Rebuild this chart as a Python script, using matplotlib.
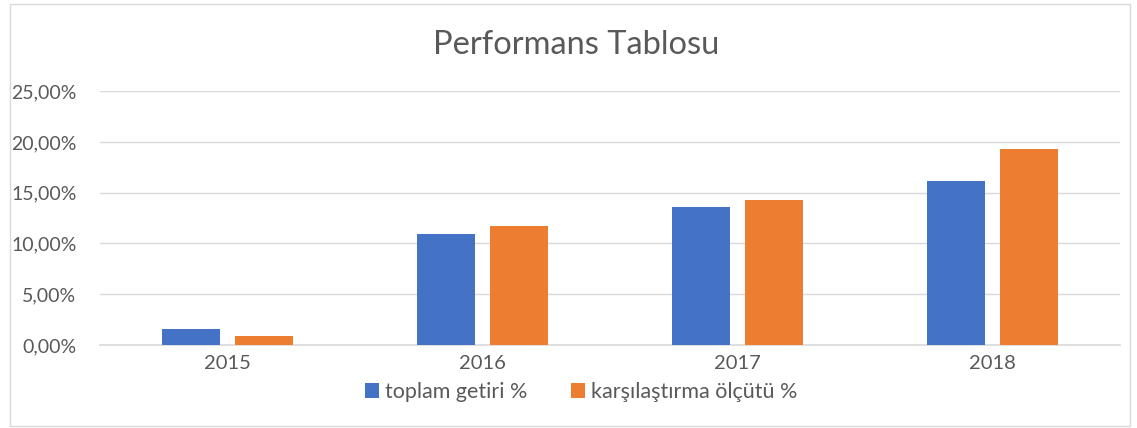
import matplotlib.pyplot as plt
import numpy as np
from matplotlib.patches import Rectangle
from matplotlib.ticker import FuncFormatter

plt.rcParams['font.family'] = ['Lato', 'DejaVu Sans']

# veri
years = ['2015', '2016', '2017', '2018']
toplam_getiri = [1.55, 10.93, 13.55, 16.20]
karsilastirma = [0.92, 11.71, 14.27, 19.26]

blue = '#4472C4'
orange = '#ED7D31'
grid_c = '#D9D9D9'
text_c = '#595959'

fig = plt.figure(figsize=(11.37, 4.28), dpi=100)
# chart frame
fig.patches.append(Rectangle((0.009, 0.005), 0.985, 0.985, transform=fig.transFigure,
                             fill=False, edgecolor='#D9D9D9', lw=1))
ax = fig.add_axes([0.088, 0.194, 0.897, 0.593])

x = np.arange(len(years))
w = 0.227
off = 0.143
ax.bar(x - off, [v / 100 for v in toplam_getiri], w, color=blue, label='toplam getiri %', zorder=3)
ax.bar(x + off, [v / 100 for v in karsilastirma], w, color=orange, label='karşılaştırma ölçütü %', zorder=3)

ax.set_xlim(-0.5, 3.5)
ax.set_ylim(0, 0.25)
ax.set_yticks(np.arange(0, 0.26, 0.05))
ax.yaxis.set_major_formatter(FuncFormatter(lambda v, p: f'{v*100:.2f}%'.replace('.', ',')))
ax.set_xticks(x)
ax.set_xticklabels(years)
ax.grid(axis='y', color=grid_c, lw=1, zorder=0)
for s in ['top', 'right', 'left']:
    ax.spines[s].set_visible(False)
ax.spines['bottom'].set_color(grid_c)
ax.spines['bottom'].set_linewidth(1.2)
ax.tick_params(axis='both', length=0, labelsize=14.5, colors=text_c)
ax.tick_params(axis='y', labelsize=14, pad=17)
ax.tick_params(axis='x', pad=7)

fig.text(0.507, 0.895, 'Performans Tablosu', ha='center', va='center', fontsize=23.5, color=text_c)
fig.legend(loc='center', bbox_to_anchor=(0.511, 1 - 392 / 428), ncol=2, frameon=False,
           fontsize=15.5, labelcolor=text_c, handlelength=0.65, handleheight=0.65,
           handletextpad=0.3, columnspacing=2.0)

fig.savefig('out.png', dpi=100, facecolor='white')
